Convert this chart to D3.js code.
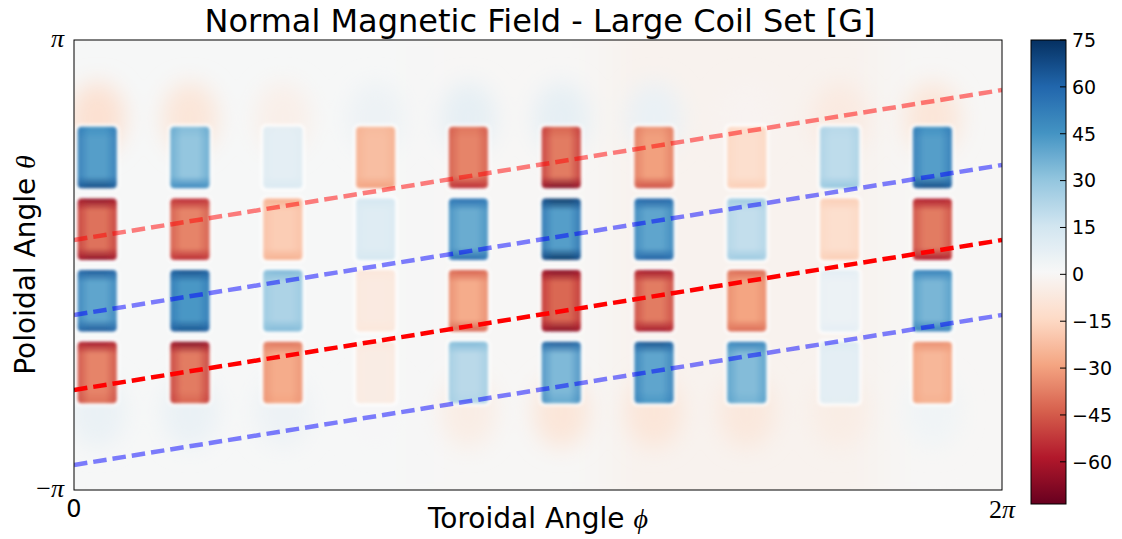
<!DOCTYPE html>
<html>
<head>
<meta charset="utf-8">
<script src="https://cdn.jsdelivr.net/npm/d3@7"></script>
<style>
  body { margin: 0; background: #fff; }
  text { font-family: "DejaVu Sans", sans-serif; fill: #000; }
  .math { font-family: "Liberation Serif", "DejaVu Serif", serif; font-style: italic; }
</style>
</head>
<body>
<div id="chart"></div>
<script>
const PI = Math.PI;

//coil centres along the toroidal angle (rad)
const coilPhi = [0.157, 0.785, 1.414, 2.042, 2.670, 3.299, 3.927, 4.555, 5.184, 5.812];
//centres of the four patch rows along the poloidal angle (rad), top to bottom
const rowTheta = [1.5, 0.5, -0.5, -1.5];

//field in the middle of each patch [G], one row per poloidal row
const centerField = [
  [ 42,  30,   8, -22, -36, -38, -30, -12,  20,  42],
  [-40, -36, -18,  10,  38,  42,  40,  19, -12, -38],
  [ 40,  44,  24,  -6, -27, -42, -38, -29,   5,  35],
  [-36, -38, -27,  -5,  21,  34,  40,  33,   8, -24]
];
//field near the inner edges of each patch [G]
const edgeField = [
  [ 68,  50,  12, -30, -56, -70, -48, -18,  30,  68],
  [-66, -56, -26,  14,  58,  74,  62,  28, -18, -60],
  [ 64,  66,  34,  -8, -44, -68, -62, -42,   8,  52],
  [-62, -68, -40,  -7,  34,  64,  66,  52,  11, -34]
];
//faint return field above and below each coil column [G]
const haloTop = [-9, -7, -3, 4, 6, 6, 5, -1, -5, -7];
const haloBottom = [5, 5, 4, 1, -4, -7, -7, -6, -4, 3];
//broad background level per column [G]
const backgroundField = [1, 1, 1, 1, 0, 0, -2, -2, -2, 0];

//dashed field lines: theta = phi/3 + offset
const lineSlope = 1 / 3;
const lineOffsets = [PI / 9, -2 * PI / 9, -5 * PI / 9, -8 * PI / 9];
const lineColors = ["red", "blue", "red", "blue"];
const lineAlpha = [0.5, 0.5, 1, 0.5];

const cbTicks = [75, 60, 45, 30, 15, 0, -15, -30, -45, -60];
const fieldMin = -73.5, fieldMax = 75;

//layout
const W = 1122, H = 539;
const plotL = 74, plotR = 1002, plotT = 40, plotB = 490;
const cbL = 1031, cbW = 35, cbT = 40, cbB = 504;

const svg = d3.select("#chart").append("svg")
  .attr("width", W).attr("height", H);

const x = d3.scaleLinear().domain([0, 2 * PI]).range([plotL, plotR]);
const y = d3.scaleLinear().domain([-PI, PI]).range([plotB, plotT]);
//linear RdBu like matplotlib (red = negative)
const rdbu = d3.piecewise(d3.interpolateRgb, d3.schemeRdBu[11]);
const color = d3.scaleSequential(rdbu).domain([fieldMin, fieldMax]);

const defs = svg.append("defs");
defs.append("clipPath").attr("id", "plotClip")
  .append("rect").attr("x", plotL).attr("y", plotT)
  .attr("width", plotR - plotL).attr("height", plotB - plotT);

function addBlur(id, sd){
  defs.append("filter").attr("id", id)
    .attr("filterUnits", "userSpaceOnUse")
    .attr("x", plotL - 50).attr("y", plotT - 50)
    .attr("width", plotR - plotL + 100).attr("height", plotB - plotT + 100)
    .append("feGaussianBlur").attr("stdDeviation", sd);
}
addBlur("blurBig", 22);
addBlur("blurMid", 11);
addBlur("blurSmall", 1.6);

const plot = svg.append("g").attr("clip-path", "url(#plotClip)");

//zero field background
plot.append("rect")
  .attr("x", plotL).attr("y", plotT)
  .attr("width", plotR - plotL).attr("height", plotB - plotT)
  .attr("fill", color(0));

//broad column tints
const colStep = 2 * PI / coilPhi.length;
plot.append("g").attr("filter", "url(#blurBig)")
  .selectAll("rect").data(coilPhi).join("rect")
  .attr("x", d => x(d - colStep / 2) - 2)
  .attr("y", plotT - 40)
  .attr("width", x(colStep) - x(0) + 4)
  .attr("height", plotB - plotT + 80)
  .attr("fill", (d, i) => color(backgroundField[i]));

//return field halos, arch shaped against the end patches
const halos = plot.append("g").attr("filter", "url(#blurMid)");
coilPhi.forEach((phi, i) => {
  [[haloTop[i], 2.05], [haloBottom[i], -2.05]].forEach(h => {
    halos.append("ellipse")
      .attr("cx", x(phi))
      .attr("cy", y(h[1]))
      .attr("rx", 28).attr("ry", 36)
      .attr("fill", color(h[0] * 1.2));
  });
});

//thin white rims around the patches
const halfW = 0.132, halfH = 0.43;
const rims = plot.append("g").attr("filter", "url(#blurSmall)");
const blocks = plot.append("g").attr("filter", "url(#blurSmall)");

rowTheta.forEach((theta, r) => {
  coilPhi.forEach((phi, c) => {
    let center = centerField[r][c];
    let edge = edgeField[r][c];
    //outer ends of the patch stack stay near the centre value
    let topVal = r === 0 ? center + (edge - center) * 0.15 : edge;
    let botVal = r === rowTheta.length - 1 ? center + (edge - center) * 0.15 : edge;

    let gid = "g" + r + "_" + c;
    let grad = defs.append("linearGradient").attr("id", gid)
      .attr("x1", 0).attr("y1", 0).attr("x2", 0).attr("y2", 1);
    [[0, topVal], [0.2, center], [0.8, center], [1, botVal]].forEach(s => {
      grad.append("stop").attr("offset", s[0]).attr("stop-color", color(s[1]));
    });

    //darker sides
    let sid = "s" + r + "_" + c;
    let side = defs.append("linearGradient").attr("id", sid)
      .attr("x1", 0).attr("y1", 0).attr("x2", 1).attr("y2", 0);
    [[0, 0.55], [0.3, 0], [0.7, 0], [1, 0.55]].forEach(s => {
      side.append("stop").attr("offset", s[0])
        .attr("stop-color", color(center + (edge - center) * 0.6))
        .attr("stop-opacity", s[1]);
    });

    let bx = x(phi - halfW), by = y(theta + halfH);
    let bw = x(phi + halfW) - bx, bh = y(theta - halfH) - by;

    rims.append("rect")
      .attr("x", bx - 3).attr("y", by - 3)
      .attr("width", bw + 6).attr("height", bh + 6)
      .attr("rx", 6)
      .attr("fill", "#fff").attr("fill-opacity", 0.75);

    blocks.append("rect")
      .attr("x", bx).attr("y", by)
      .attr("width", bw).attr("height", bh)
      .attr("rx", 4)
      .attr("fill", "url(#" + gid + ")");
    blocks.append("rect")
      .attr("x", bx).attr("y", by)
      .attr("width", bw).attr("height", bh)
      .attr("rx", 4)
      .attr("fill", "url(#" + sid + ")");
  });
});

//dashed lines
const line = d3.line().x(d => x(d[0])).y(d => y(d[1]));
lineOffsets.forEach((off, i) => {
  plot.append("path")
    .attr("d", line([[0, off], [2 * PI, off + lineSlope * 2 * PI]]))
    .attr("fill", "none")
    .attr("stroke", lineColors[i])
    .attr("stroke-opacity", lineAlpha[i])
    .attr("stroke-width", 4.5)
    .attr("stroke-dasharray", "13.5,6");
});

//frame
svg.append("rect")
  .attr("x", plotL).attr("y", plotT)
  .attr("width", plotR - plotL).attr("height", plotB - plotT)
  .attr("fill", "none").attr("stroke", "#000").attr("stroke-width", 1);

//title and axis labels
svg.append("text")
  .attr("x", (plotL + plotR) / 2 + 2).attr("y", 32)
  .attr("text-anchor", "middle")
  .style("font-size", "32px")
  .text("Normal Magnetic Field - Large Coil Set [G]");

let xl = svg.append("text")
  .attr("x", (plotL + plotR) / 2).attr("y", 528)
  .attr("text-anchor", "middle")
  .style("font-size", "28px");
xl.append("tspan").text("Toroidal Angle ");
xl.append("tspan").attr("class", "math").text("\u03d5");

let yl = svg.append("text")
  .attr("transform", "translate(35," + ((plotT + plotB) / 2) + ") rotate(-90)")
  .attr("text-anchor", "middle")
  .style("font-size", "28px");
yl.append("tspan").text("Poloidal Angle ");
yl.append("tspan").attr("class", "math").text("\u03b8");

//tick labels
svg.append("text").attr("class", "math")
  .attr("x", plotL - 10).attr("y", y(PI) + 7)
  .attr("text-anchor", "end").style("font-size", "26px").text("\u03c0");
let ym = svg.append("text")
  .attr("x", plotL - 10).attr("y", y(-PI) + 7)
  .attr("text-anchor", "end").style("font-size", "26px");
ym.append("tspan").style("font-family", "Liberation Serif, serif").text("\u2212");
ym.append("tspan").attr("class", "math").text("\u03c0");

svg.append("text")
  .attr("x", x(0)).attr("y", 517)
  .attr("text-anchor", "middle").style("font-size", "24px").text("0");
let x2 = svg.append("text")
  .attr("x", x(2 * PI)).attr("y", 518)
  .attr("text-anchor", "middle").style("font-size", "26px");
x2.append("tspan").style("font-family", "Liberation Serif, serif").text("2");
x2.append("tspan").attr("class", "math").text("\u03c0");

//colorbar
const cb = d3.scaleLinear().domain([fieldMin, fieldMax]).range([cbB, cbT]);
const cbGrad = defs.append("linearGradient").attr("id", "cbGrad")
  .attr("x1", 0).attr("y1", 1).attr("x2", 0).attr("y2", 0);
d3.range(0, 1.0001, 0.025).forEach(t => {
  cbGrad.append("stop").attr("offset", t)
    .attr("stop-color", color(fieldMin + t * (fieldMax - fieldMin)));
});
svg.append("rect")
  .attr("x", cbL).attr("y", cbT)
  .attr("width", cbW).attr("height", cbB - cbT)
  .attr("fill", "url(#cbGrad)")
  .attr("stroke", "#000").attr("stroke-width", 1);

svg.append("g").selectAll("line").data(cbTicks).join("line")
  .attr("x1", cbL + cbW - 6).attr("x2", cbL + cbW)
  .attr("y1", d => cb(d)).attr("y2", d => cb(d))
  .attr("stroke", "#000").attr("stroke-width", 1);

svg.append("g").selectAll("text").data(cbTicks).join("text")
  .attr("x", cbL + cbW + 6)
  .attr("y", d => cb(d))
  .attr("dy", "0.36em")
  .style("font-size", "19px")
  .text(d => d3.format("d")(d));
</script>
</body>
</html>
